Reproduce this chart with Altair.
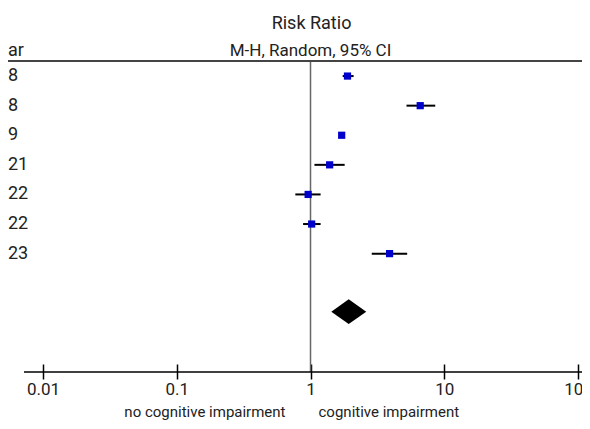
import altair as alt
import pandas as pd

# ---- data ----
year_labels = ["8", "8", "9", "21", "22", "22", "23"]   # visible (cropped) year column
rr = [1.89, 6.61, 1.71, 1.39, 0.96, 1.02, 3.90]
ci_low = [1.74, 5.22, 1.66, 1.07, 0.77, 0.88, 2.87]
ci_high = [2.10, 8.56, 1.77, 1.80, 1.19, 1.19, 5.28]

pooled_rr = 1.93
pooled_low = 1.43
pooled_high = 2.61

tick_values = [0.01, 0.1, 1, 10, 100]
header_1 = "Risk Ratio"
header_2 = "M-H, Random, 95% CI"
col_header = "ar"
left_label = "no cognitive impairment"
right_label = "cognitive impairment"

FONT = "Roboto, Liberation Sans, sans-serif"
W, H = 574, 364

rows = list(range(len(rr)))
studies = pd.DataFrame({"row": rows, "label": year_labels, "rr": rr,
                        "lo": ci_low, "hi": ci_high})
pooled_row = 7.96
diamond = pd.DataFrame({
    "x": [pooled_low, pooled_rr, pooled_high],
    "y": [pooled_row, pooled_row - 0.42, pooled_row],
    "y2": [pooled_row, pooled_row + 0.42, pooled_row],
})

xs = alt.Scale(type="log", domain=[0.005473, 107.1], nice=False)
ys = alt.Scale(domain=[-2.3, 10.0], reverse=True, nice=False, zero=False)

xaxis = alt.Axis(values=tick_values, format="~g", domain=False, grid=False,
                 tickSize=15, offset=-8, tickColor="black", tickWidth=1.5,
                 labelFontSize=17, labelFont=FONT, labelColor="#222",
                 labelPadding=2, labelFlush=False, labelBound=False,
                 labelOverlap=False, title=None)

base = alt.Chart(studies)

ci = base.mark_rule(color="black", strokeWidth=2).encode(
    x=alt.X("lo:Q", scale=xs, axis=xaxis),
    x2="hi:Q",
    y=alt.Y("row:Q", scale=ys, axis=None),
)
pts = base.mark_square(color="#0000CC", size=52, opacity=1).encode(
    x=alt.X("rr:Q", scale=xs),
    y=alt.Y("row:Q", scale=ys),
)
labels = base.mark_text(align="left", baseline="middle", fontSize=18,
                        font=FONT, color="#222").encode(
    x=alt.value(0),
    y=alt.Y("row:Q", scale=ys),
    text="label:N",
)

dia = alt.Chart(diamond).mark_area(color="black", opacity=1).encode(
    x=alt.X("x:Q", scale=xs),
    y=alt.Y("y:Q", scale=ys),
    y2="y2:Q",
)

one = pd.DataFrame({"v": [1]})
vline = alt.Chart(one).mark_rule(color="#666", strokeWidth=1.5).encode(
    x=alt.X("v:Q", scale=xs), y=alt.value(54), y2=alt.value(H))
hline_top = alt.Chart(one).mark_rule(color="#444", strokeWidth=2).encode(
    x=alt.value(0), x2=alt.value(W), y=alt.value(53))
hline_axis = alt.Chart(one).mark_rule(color="black", strokeWidth=1.5).encode(
    x=alt.value(16), x2=alt.value(W), y=alt.value(H))

def txt(s, y, size, align="center", dx=0, x=None):
    ch = alt.Chart(pd.DataFrame({"v": [1], "t": [s]})).mark_text(
        align=align, baseline="middle", fontSize=size, font=FONT,
        color="#222", dx=dx)
    if x is None:
        return ch.encode(x=alt.X("v:Q", scale=xs), y=alt.value(y), text="t:N")
    return ch.encode(x=alt.value(x), y=alt.value(y), text="t:N")

t1 = txt(header_1, 16, 18, dx=1)
t2 = txt(header_2, 43, 17)
t3 = txt(col_header, 43, 18, align="left", x=0)
t4 = txt(left_label, 404, 15, align="right", dx=-25)
t5 = txt(right_label, 404, 15, align="left", dx=8)

chart = alt.layer(hline_top, vline, hline_axis, ci, pts, dia, labels,
                  t1, t2, t3, t4, t5).properties(
    width=W, height=H,
    autosize=alt.AutoSizeParams(type="none"),
    padding={"left": 0, "right": 0, "top": 0, "bottom": 49},
).configure_view(strokeWidth=0)

chart.save("out.html", embed_options={"renderer": "svg", "actions": False})
